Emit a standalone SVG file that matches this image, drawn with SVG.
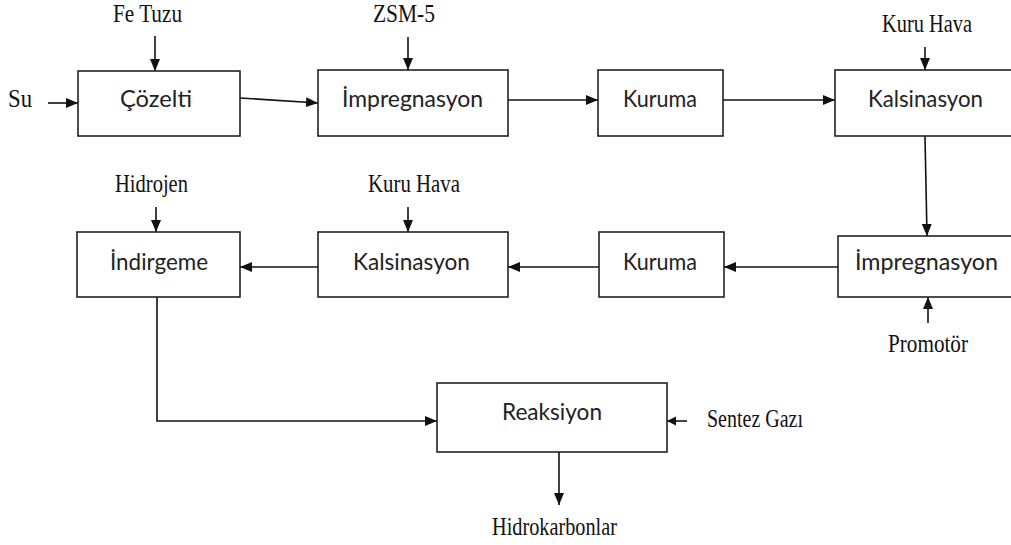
<svg xmlns="http://www.w3.org/2000/svg" width="1011" height="545" viewBox="0 0 1011 545">
<defs>
<style>
.box{fill:#fff;stroke:#222;stroke-width:1.6}
.lbl{font-family:Lato,"Liberation Sans",sans-serif;font-size:24px;fill:#222}
.ext{font-family:"Liberation Serif","Times New Roman",serif;font-size:25px;fill:#111}
.con{fill:none;stroke:#111;stroke-width:1.6}
</style>
<marker id="ah" markerUnits="userSpaceOnUse" markerWidth="13" markerHeight="11" refX="12" refY="5" orient="auto">
<path d="M0,0 L12,5 L0,10 z" fill="#111"/>
</marker>
<marker id="ahs" markerUnits="userSpaceOnUse" markerWidth="10" markerHeight="10" refX="9" refY="4.5" orient="auto">
<path d="M0,0 L9,4.5 L0,9 z" fill="#111"/>
</marker>
</defs>
<rect width="1011" height="545" fill="#fff"/>

<g id="connectors">
<line class="con" x1="48" y1="103" x2="78" y2="103" marker-end="url(#ah)"/>
<line class="con" x1="155" y1="36" x2="155" y2="71" marker-end="url(#ah)"/>
<line class="con" x1="240" y1="98" x2="318" y2="103" marker-end="url(#ah)"/>
<line class="con" x1="408" y1="37" x2="408" y2="70" marker-end="url(#ah)"/>
<line class="con" x1="508" y1="100" x2="598" y2="100" marker-end="url(#ah)"/>
<line class="con" x1="723" y1="100" x2="835" y2="100" marker-end="url(#ah)"/>
<line class="con" x1="925" y1="47" x2="925" y2="70" marker-end="url(#ah)"/>
<line class="con" x1="925" y1="136" x2="927" y2="236" marker-end="url(#ah)"/>
<line class="con" x1="838" y1="267" x2="724" y2="267" marker-end="url(#ah)"/>
<line class="con" x1="599" y1="267" x2="508" y2="267" marker-end="url(#ah)"/>
<line class="con" x1="318" y1="267" x2="240" y2="267" marker-end="url(#ah)"/>
<line class="con" x1="156" y1="207" x2="156" y2="232" marker-end="url(#ah)"/>
<line class="con" x1="408" y1="207" x2="408" y2="232" marker-end="url(#ah)"/>
<line class="con" x1="928" y1="323" x2="928" y2="297" marker-end="url(#ah)"/>
<polyline class="con" points="157,297 157,421 437,421" marker-end="url(#ah)"/>
<line class="con" x1="687" y1="421" x2="667" y2="421" marker-end="url(#ahs)"/>
<line class="con" x1="559" y1="452" x2="559" y2="505" marker-end="url(#ah)"/>
</g>

<g id="cozelti"><rect class="box" x="78" y="71" width="162" height="65"/><text class="lbl" x="120" y="107" textLength="72" lengthAdjust="spacingAndGlyphs">Çözelti</text></g>
<g id="impregnasyon1"><rect class="box" x="318" y="70" width="190" height="66"/><text class="lbl" x="342" y="107" textLength="141" lengthAdjust="spacingAndGlyphs">İmpregnasyon</text></g>
<g id="kuruma1"><rect class="box" x="598" y="70" width="125" height="66"/><text class="lbl" x="623" y="107" textLength="74" lengthAdjust="spacingAndGlyphs">Kuruma</text></g>
<g id="kalsinasyon1"><rect class="box" x="835" y="70" width="180" height="66"/><text class="lbl" x="868" y="107" textLength="115" lengthAdjust="spacingAndGlyphs">Kalsinasyon</text></g>

<g id="indirgeme"><rect class="box" x="77" y="232" width="163" height="65"/><text class="lbl" x="110" y="270" textLength="98" lengthAdjust="spacingAndGlyphs">İndirgeme</text></g>
<g id="kalsinasyon2"><rect class="box" x="318" y="232" width="190" height="65"/><text class="lbl" x="353" y="270" textLength="117" lengthAdjust="spacingAndGlyphs">Kalsinasyon</text></g>
<g id="kuruma2"><rect class="box" x="599" y="232" width="125" height="65"/><text class="lbl" x="623" y="270" textLength="74" lengthAdjust="spacingAndGlyphs">Kuruma</text></g>
<g id="impregnasyon2"><rect class="box" x="838" y="236" width="180" height="61"/><text class="lbl" x="855" y="270" textLength="143" lengthAdjust="spacingAndGlyphs">İmpregnasyon</text></g>

<g id="reaksiyon"><rect class="box" x="437" y="383" width="230" height="69"/><text class="lbl" x="502" y="420" textLength="100" lengthAdjust="spacingAndGlyphs">Reaksiyon</text></g>

<g id="inputs">
<text id="fe-tuzu" class="ext" x="113" y="22" textLength="69" lengthAdjust="spacingAndGlyphs">Fe Tuzu</text>
<text id="su" class="ext" x="8" y="107" textLength="24" lengthAdjust="spacingAndGlyphs">Su</text>
<text id="zsm5" class="ext" x="373" y="22" textLength="62" lengthAdjust="spacingAndGlyphs">ZSM-5</text>
<text id="kuru-hava1" class="ext" x="882" y="32" textLength="90" lengthAdjust="spacingAndGlyphs">Kuru Hava</text>
<text id="hidrojen" class="ext" x="115" y="192" textLength="73" lengthAdjust="spacingAndGlyphs">Hidrojen</text>
<text id="kuru-hava2" class="ext" x="368" y="192" textLength="92" lengthAdjust="spacingAndGlyphs">Kuru Hava</text>
<text id="promotor" class="ext" x="888" y="352" textLength="80" lengthAdjust="spacingAndGlyphs">Promotör</text>
<text id="sentez-gazi" class="ext" x="707" y="427" textLength="96" lengthAdjust="spacingAndGlyphs">Sentez Gazı</text>
<text id="hidrokarbonlar" class="ext" x="492" y="535" textLength="125" lengthAdjust="spacingAndGlyphs">Hidrokarbonlar</text>
</g>
</svg>
